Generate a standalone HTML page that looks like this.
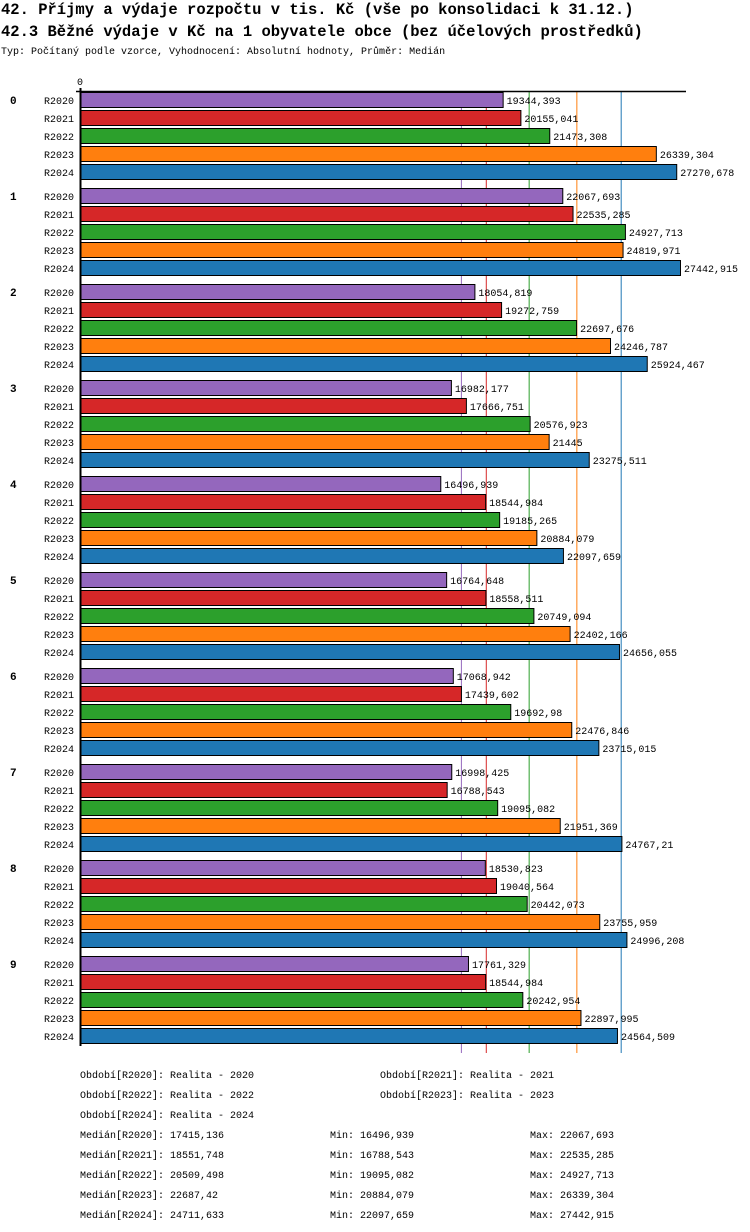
<!DOCTYPE html>
<html><head><meta charset="utf-8"><style>
body{margin:0;background:#fff}
svg{display:block}
text{font-family:"Liberation Mono","DejaVu Sans Mono",monospace;fill:#000}
</style></head><body>
<svg id="c" width="750" height="1232">
<text x="1" y="14" font-size="15.5" font-weight="bold">42. Příjmy a výdaje rozpočtu v tis. Kč (vše po konsolidaci k 31.12.)</text>
<text x="1" y="36" font-size="15.5" font-weight="bold">42.3 Běžné výdaje v Kč na 1 obyvatele obce (bez účelových prostředků)</text>
<text x="1" y="54" font-size="10">Typ: Počítaný podle vzorce, Vyhodnocení: Absolutní hodnoty, Průměr: Medián</text>
<text x="77" y="85" font-size="10">0</text>
</svg>
<script>
const groups=["0","1","2","3","4","5","6","7","8","9"];
const series=["R2020","R2021","R2022","R2023","R2024"];
const colors=["#9467bd","#d62728","#2ca02c","#ff7f0e","#1f77b4"];
const values=[
[19344.393,20155.041,21473.308,26339.304,27270.678],
[22067.693,22535.285,24927.713,24819.971,27442.915],
[18054.819,19272.759,22697.676,24246.787,25924.467],
[16982.177,17666.751,20576.923,21445,23275.511],
[16496.939,18544.984,19185.265,20884.079,22097.659],
[16764.648,18558.511,20749.094,22402.166,24656.055],
[17068.942,17439.602,19692.98,22476.846,23715.015],
[16998.425,16788.543,19095.082,21951.369,24767.21],
[18530.823,19040.564,20442.073,23755.959,24996.208],
[17761.329,18544.984,20242.954,22897.995,24564.509]];
const labels=[
["19344,393","20155,041","21473,308","26339,304","27270,678"],
["22067,693","22535,285","24927,713","24819,971","27442,915"],
["18054,819","19272,759","22697,676","24246,787","25924,467"],
["16982,177","17666,751","20576,923","21445","23275,511"],
["16496,939","18544,984","19185,265","20884,079","22097,659"],
["16764,648","18558,511","20749,094","22402,166","24656,055"],
["17068,942","17439,602","19692,98","22476,846","23715,015"],
["16998,425","16788,543","19095,082","21951,369","24767,21"],
["18530,823","19040,564","20442,073","23755,959","24996,208"],
["17761,329","18544,984","20242,954","22897,995","24564,509"]];
const medians=[17415.136,18551.748,20509.498,22687.42,24711.633];
const mins=["16496,939","16788,543","19095,082","20884,079","22097,659"];
const maxs=["22067,693","22535,285","24927,713","26339,304","27442,915"];
const medLabels=["17415,136","18551,748","20509,498","22687,42","24711,633"];

const svg=document.getElementById('c');
const NS="http://www.w3.org/2000/svg";
const x0=80, xMax=27442.915, xEnd=681;
const xs=v=>x0+v/xMax*(xEnd-x0);
const top0=92, pitch=96, step=18, bh=16;
function mk(t,a){const e=document.createElementNS(NS,t);for(const k in a)e.setAttribute(k,a[k]);svg.appendChild(e);return e;}

medians.forEach((m,i)=>{
  const l=mk('line',{x1:xs(m),x2:xs(m),y1:top0,y2:1053,stroke:colors[i],'stroke-width':1});
  
  
});
groups.forEach((g,gi)=>{
  const gy=top0+gi*pitch;
  const gl=mk('text',{x:10,y:gy+12,'font-size':11,'font-weight':'bold'});gl.textContent=g;
  
  
  series.forEach((s,si)=>{
    const y=gy+si*step;
    const t=mk('text',{x:44,y:y+12,'font-size':10});t.textContent=s;
    
    
    const r=mk('rect',{x:x0+0.5,y:y+0.5,width:xs(values[gi][si])-x0-1,height:bh-1,fill:colors[si],stroke:'#000','stroke-width':1});
    
    
    const v=mk('text',{x:xs(values[gi][si])+3,y:y+12,'font-size':10});v.textContent=labels[gi][si];
    
    
  });
});
const ax=mk('line',{x1:80.5,x2:80.5,y1:88,y2:1046,stroke:'#000','stroke-width':2});


const tx=mk('line',{x1:76,x2:686,y1:91.5,y2:91.5,stroke:'#000','stroke-width':1.5});



const per=[["Období[R2020]: Realita - 2020",80,1078],["Období[R2021]: Realita - 2021",380,1078],["Období[R2022]: Realita - 2022",80,1098],["Období[R2023]: Realita - 2023",380,1098],["Období[R2024]: Realita - 2024",80,1118]];
per.forEach(p=>{const t=mk('text',{x:p[1],y:p[2],'font-size':10});t.textContent=p[0];
  
  });
series.forEach((s,i)=>{
  const y=1138+i*20;
  const a=mk('text',{x:80,y:y,'font-size':10});a.textContent="Medián["+s+"]: "+medLabels[i];
  
  
  const b=mk('text',{x:330,y:y,'font-size':10});b.textContent="Min: "+mins[i];
  
  
  const c=mk('text',{x:530,y:y,'font-size':10});c.textContent="Max: "+maxs[i];
  
  
});
</script>
</body></html>
